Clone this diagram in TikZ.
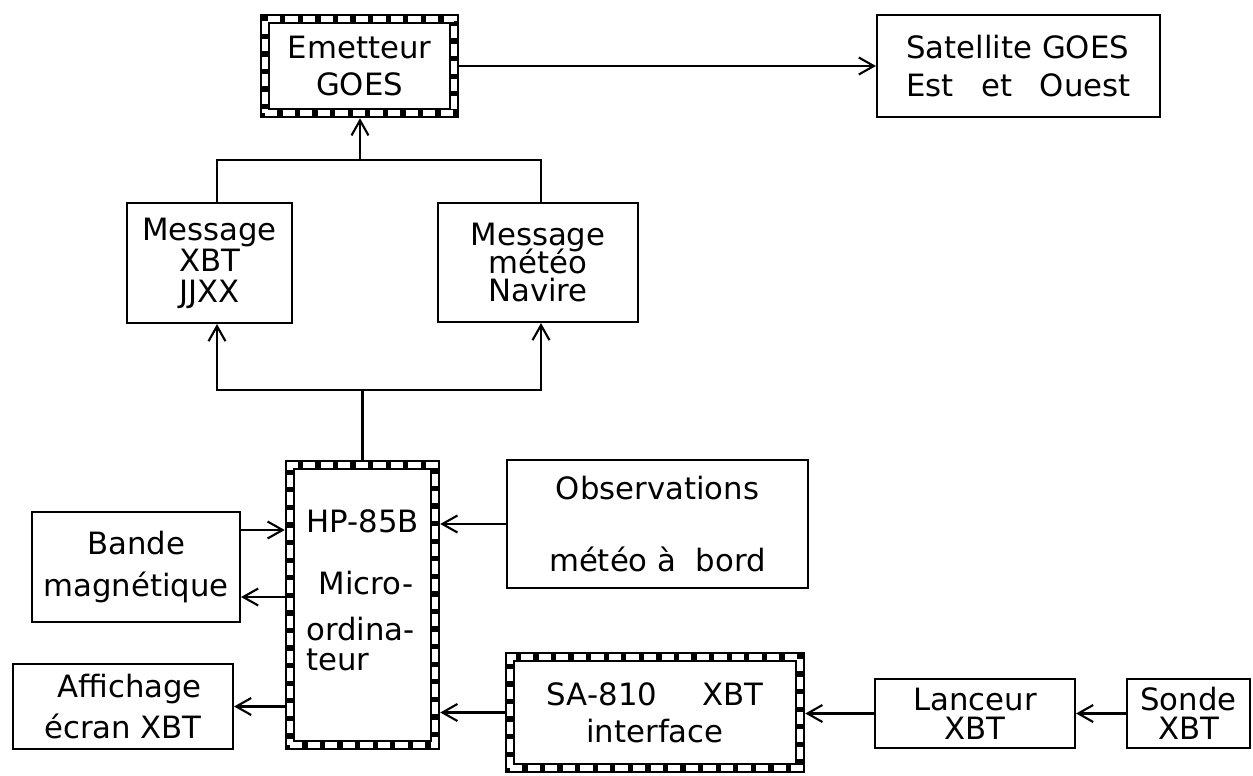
\documentclass[tikz,border=0pt]{standalone}
\usepackage{fontspec}
\setmainfont{DejaVu Sans}
\usetikzlibrary{arrows.meta}
\setlength{\lineskiplimit}{-1cm}

\begin{document}
\begin{tikzpicture}[>={Straight Barb[length=3mm,width=3.4mm]},
  b/.style={draw,line width=1.2pt,inner sep=0pt,align=center},
  h/.style={draw,line width=6pt,inner sep=0pt,align=center,postaction={draw=white,line width=3pt,dash pattern=on 7pt off 3pt}},
  ls/.style={font=\fontsize{17.5}{#1}\selectfont},
  c/.style={line width=1.2pt}]
\useasboundingbox (0,0) rectangle (25.06,-15.5);
\node[h,ls=21.6,minimum width=3.78cm,minimum height=1.88cm] (emit) at (7.19,-1.32) {Emetteur\\GOES};
\node[b,ls=21.6,align=left,minimum width=5.66cm,minimum height=2.04cm] (sat) at (20.37,-1.32) {Satellite GOES\\Est\hspace{0.55cm}et\hspace{0.55cm}Ouest};
\node[b,ls=17.6,minimum width=3.3cm,minimum height=2.4cm] (msgx) at (4.19,-5.26) {Message\\XBT\\JJXX};
\node[b,ls=16.2,minimum width=4.0cm,minimum height=2.38cm] (msgm) at (10.76,-5.25) {Message\\météo\\Navire};
\node[h,ls=17,align=left,minimum width=2.9cm,minimum height=5.6cm] (hp) at (7.25,-12.1) {HP-85B\\[0.64cm]\hspace*{0.25cm}Micro-\\[0.34cm]ordina-\\teur\\\mbox{}};
\node[b,ls=41,minimum width=6.02cm,minimum height=2.56cm] (obs) at (13.15,-10.48) {Observations\\météo à\ \ bord};
\node[b,ls=23.9,minimum width=4.16cm,minimum height=2.2cm] (bande) at (2.72,-11.34) {Bande\\magnétique};
\node[b,ls=22.8,align=right,minimum width=4.4cm,minimum height=1.7cm] (affich) at (2.46,-14.13) {Affichage\\écran XBT};
\node[h,ls=21,minimum width=5.8cm,minimum height=2.22cm] (sa) at (13.1,-14.25) {SA-810\hspace{0.9cm}XBT\\interface};
\node[b,ls=16.5,minimum width=4.0cm,minimum height=1.38cm] (lanc) at (19.5,-14.27) {Lanceur\\XBT};
\node[b,ls=16.5,minimum width=2.46cm,minimum height=1.38cm] (sonde) at (23.77,-14.27) {Sonde\\XBT};
\coordinate (jtop) at (7.2,-3.2);
\coordinate (jbot) at (hp.north |- 0,-7.8);
\coordinate (bin) at ([yshift=7.4mm]bande.east);
\coordinate (bout) at ([yshift=-6mm]bande.east);
\draw[c] ([xshift=1.5mm]msgx.north) |- (jtop) -| ([xshift=0.6mm]msgm.north);
\draw[c,->] (jtop) -- (jtop |- emit.south);
\draw[c,->] (emit.east) -- (emit.east -| sat.west);
\draw[c] (hp.north) -- (jbot);
\draw[c,->] (jbot) -| ([xshift=1.5mm]msgx.south);
\draw[c,->] (jbot) -| ([xshift=0.6mm]msgm.south);
\draw[c,->] (obs.west) -- (obs.west -| hp.east);
\draw[c,->] (bin) -- (bin -| hp.west);
\draw[c,->] (bout -| hp.west) -- (bout);
\draw[c,->] (hp.west |- affich.east) -- (affich.east);
\draw[c,->] (sa.west) -- (sa.west -| hp.east);
\draw[c,->] (lanc.west) -- (lanc.west -| sa.east);
\draw[c,->] (sonde.west) -- (sonde.west -| lanc.east);
\end{tikzpicture}
\end{document}
